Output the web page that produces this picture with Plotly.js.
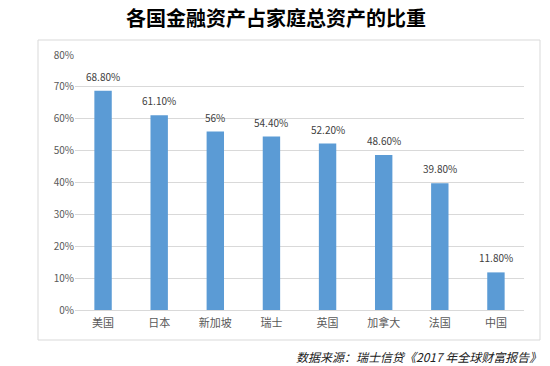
<!DOCTYPE html>
<html><head><meta charset="utf-8">
<script src="https://cdn.plot.ly/plotly-3.0.1.min.js"></script>
<style>html,body{margin:0;padding:0;background:#fff}#c{width:550px;height:366px}</style>
</head><body><div id="c"></div>
<script>
const categories = ["美国","日本","新加坡","瑞士","英国","加拿大","法国","中国"];
const values = [68.8, 61.1, 56, 54.4, 52.2, 48.6, 39.8, 11.8];
const valueLabels = ["68.80%","61.10%","56%","54.40%","52.20%","48.60%","39.80%","11.80%"];
const tickVals = [0,10,20,30,40,50,60,70,80];
const tickText = ["0%","10%","20%","30%","40%","50%","60%","70%","80%"];
const titleText = "各国金融资产占家庭总资产的比重";
const sourceText = "数据来源：瑞士信贷《2017 年全球财富报告》";

const font = "'Noto Sans CJK SC', 'Noto Sans', sans-serif";
const L = 75, R = 26, T = 55, B = 56, W = 550, H = 366;
const pw = W - L - R, ph = H - T - B;
const px = x => (x - L) / pw, py = y => (H - B - y) / ph;

const labelAnns = categories.map((c, i) => ({
  x: c, y: values[i], xref: 'x', yref: 'y', text: valueLabels[i],
  showarrow: false, yanchor: 'bottom', yshift: 5,
  font: {family: font, size: 10, color: '#404040'}
}));

Plotly.newPlot('c', [{
  type: 'bar', x: categories, y: values,
  marker: {color: '#5b9bd5'},
  hoverinfo: 'none'
}], {
  width: W, height: H,
  margin: {l: L, r: R, t: T, b: B},
  paper_bgcolor: '#fff', plot_bgcolor: '#fff',
  bargap: 0.69,
  showlegend: false,
  xaxis: {tickfont: {family: font, size: 11, color: '#595959'}, showline: true, linecolor: '#d9d9d9', ticks: '',
          ticklabelstandoff: 3, fixedrange: true},
  yaxis: {range: [0, 80], tickvals: tickVals, ticktext: tickText, gridcolor: '#d9d9d9', zeroline: false,
          tickfont: {family: font, size: 10, color: '#595959'}, ticks: '', ticklen: 0, fixedrange: true},
  shapes: [{type: 'rect', xref: 'paper', yref: 'paper', x0: px(38), x1: px(540), y0: py(340), y1: py(40),
            line: {color: '#d9d9d9', width: 1}, fillcolor: 'rgba(0,0,0,0)', layer: 'below'}],
  annotations: labelAnns.concat([
    {text: '<b>' + titleText + '</b>', xref: 'paper', yref: 'paper', x: px(276), y: py(17), xanchor: 'center', yanchor: 'middle',
     showarrow: false, font: {family: font, size: 20, color: '#000'}},
    {text: '<i>' + sourceText + '</i>', xref: 'paper', yref: 'paper', x: px(543), y: py(356), xanchor: 'right', yanchor: 'middle',
     showarrow: false, font: {family: font, size: 12, color: '#222'}}
  ])
}, {displayModeBar: false, staticPlot: true});
</script></body></html>
